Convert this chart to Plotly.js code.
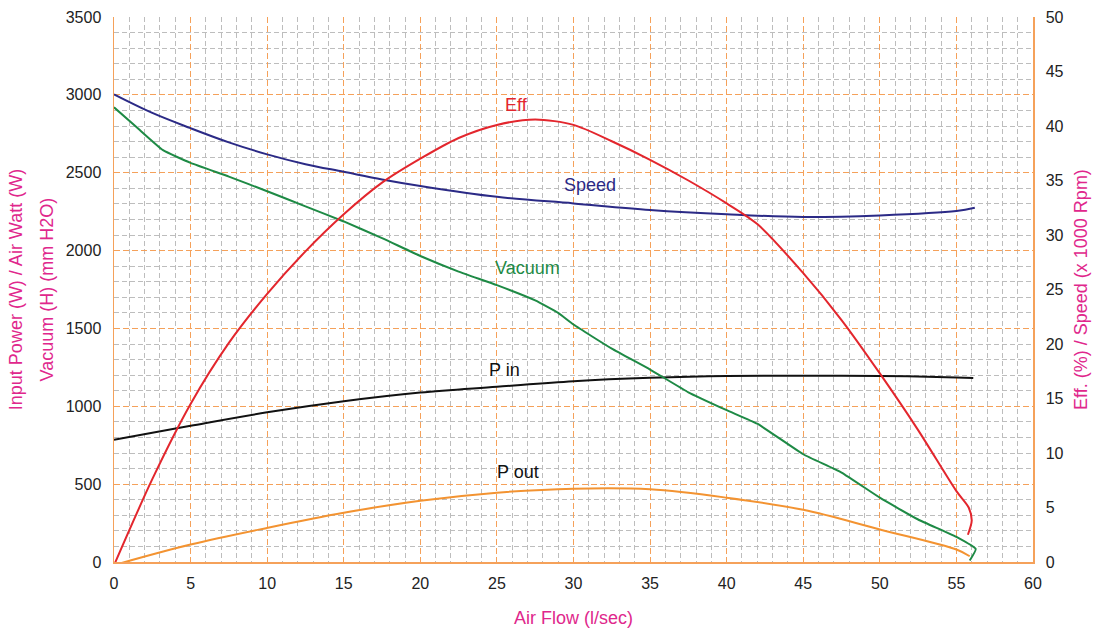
<!DOCTYPE html>
<html>
<head>
<meta charset="utf-8">
<script src="https://cdn.plot.ly/plotly-3.0.1.min.js"></script>
<style>html,body{margin:0;padding:0;background:#fff}#chart{width:1095px;height:633px}</style>
</head>
<body>
<div id="chart"></div>
<script>
// Air flow (l/sec) sample points for each curve
const effX   = [0, 2.5, 5, 7.5, 10, 12.5, 15, 17.5, 20, 22.5, 25, 27.5, 30, 32.5, 35, 37.5, 40, 42, 45, 47.5, 50, 52.5, 55, 55.8, 56.0, 55.75];
const effY   = [-0.3, 7.6, 14.5, 20.1, 24.6, 28.5, 31.9, 34.8, 37.0, 38.9, 40.1, 40.6, 40.1, 38.6, 36.9, 35.0, 32.9, 31.0, 26.5, 22.2, 17.3, 12.1, 6.5, 5.0, 3.8, 2.5];

const speedX = [0, 2.5, 5, 7.5, 10, 12.5, 15, 17.5, 20, 25, 30, 35, 40, 45, 50, 55, 56.2];
const speedY = [42.9, 41.2, 39.8, 38.5, 37.4, 36.5, 35.8, 35.1, 34.5, 33.5, 32.9, 32.3, 31.9, 31.65, 31.8, 32.2, 32.5];

const vacX   = [0, 1.5, 3.2, 5, 7.5, 10, 12.5, 15, 17.5, 20, 22.5, 25, 27.5, 29, 30, 32.5, 35, 37.5, 40, 42, 45, 47.5, 50, 52.5, 55, 56.26, 55.87];
const vacY   = [2920, 2790, 2645, 2563, 2475, 2381, 2284, 2187, 2080, 1965, 1865, 1778, 1680, 1600, 1525, 1370, 1236, 1090, 975, 888, 692, 574, 413, 273, 161, 83, 10];

const pinX   = [0, 5, 10, 15, 20, 25, 30, 35, 40, 45, 50, 55, 56.1];
const pinY   = [785, 875, 961, 1032, 1088, 1125, 1161, 1183, 1195, 1196, 1195, 1185, 1182];

const poutX  = [0, 5, 10, 15, 20, 25, 30, 35, 40, 45, 50, 55, 55.87];
const poutY  = [-20, 112, 219, 316, 393, 445, 471, 467, 413, 335, 209, 80, 37];

// Curve labels
const labelText = ['Eff', 'Speed', 'Vacuum', 'P in', 'P out'];
const labelX    = [26.3, 31.1, 27.0, 25.5, 26.4];
const labelY    = [2937, 2423, 1890, 1235, 580];
const labelCol  = ['#e3262d', '#2b2a86', '#1e8a45', '#111111', '#111111'];

const C_EFF = '#e3262d', C_SPD = '#2b2a86', C_VAC = '#1e8a45', C_PIN = '#111111', C_POUT = '#f39331';
const ORANGE = '#f5a15a', MAGENTA = '#e0278c';
const FAM = 'Liberation Sans, Arial, Helvetica, sans-serif';

const traces = [
  {x: poutX, y: poutY, name: 'P out', mode: 'lines', line: {color: C_POUT, width: 2, shape: 'spline', smoothing: 1}},
  {x: pinX, y: pinY, name: 'P in', mode: 'lines', line: {color: C_PIN, width: 2, shape: 'spline', smoothing: 1}},
  {x: vacX, y: vacY, name: 'Vacuum', mode: 'lines', line: {color: C_VAC, width: 2, shape: 'spline', smoothing: 0.4}},
  {x: speedX, y: speedY, name: 'Speed', yaxis: 'y2', mode: 'lines', line: {color: C_SPD, width: 2, shape: 'spline', smoothing: 1}},
  {x: effX, y: effY, name: 'Eff', yaxis: 'y2', mode: 'lines', line: {color: C_EFF, width: 2, shape: 'spline', smoothing: 0.8}}
];

const annotations = labelText.map((t, i) => ({
  x: labelX[i], y: labelY[i], xref: 'x', yref: 'y', text: t, showarrow: false,
  font: {family: FAM, size: 18, color: labelCol[i]}
}));
// second line of the left axis title
annotations.push({
  xref: 'paper', yref: 'paper', x: -0.073, y: 0.5, xanchor: 'center', yanchor: 'middle',
  text: 'Vacuum (H) (mm H2O)', textangle: -90, showarrow: false,
  font: {family: FAM, size: 18, color: MAGENTA}
});

const layout = {
  width: 1095, height: 633,
  margin: {l: 114, r: 62, t: 17, b: 71},
  paper_bgcolor: '#fff', plot_bgcolor: '#fff',
  showlegend: false,
  font: {family: FAM, size: 16, color: '#222'},
  xaxis: {
    range: [0, 60], dtick: 5, tick0: 0,
    showline: true, linecolor: ORANGE, linewidth: 1.5,
    showgrid: true, gridcolor: ORANGE, griddash: '6px,3px', gridwidth: 1,
    minor: {dtick: 1, showgrid: true, gridcolor: '#bdbdbd', griddash: '5px,3px', gridwidth: 1},
    zeroline: false, ticks: '', ticklabelstandoff: 6,
    tickfont: {family: FAM, size: 16, color: '#222'},
    title: {text: 'Air Flow (l/sec)', font: {family: FAM, size: 18, color: MAGENTA}, standoff: 20}
  },
  yaxis: {
    range: [0, 3500], dtick: 500, tick0: 0,
    showline: true, linecolor: ORANGE, linewidth: 1.5,
    showgrid: true, gridcolor: ORANGE, griddash: '6px,3px', gridwidth: 1,
    minor: {dtick: 100, showgrid: true, gridcolor: '#bdbdbd', griddash: '5px,3px', gridwidth: 1},
    zeroline: false, ticks: '', ticklabelstandoff: 8,
    tickfont: {family: FAM, size: 16, color: '#222'},
    title: {text: 'Input Power (W) / Air Watt (W)', font: {family: FAM, size: 18, color: MAGENTA}, standoff: 38}
  },
  yaxis2: {
    range: [0, 50], dtick: 5, tick0: 0, overlaying: 'y', side: 'right',
    showline: true, linecolor: ORANGE, linewidth: 1.5,
    showgrid: false, zeroline: false, ticks: '', ticklabelstandoff: 8,
    tickfont: {family: FAM, size: 16, color: '#222'},
    title: {text: 'Eff. (%) / Speed (x 1000 Rpm)', font: {family: FAM, size: 18, color: MAGENTA}, standoff: 12}
  },
  annotations: annotations
};

Plotly.newPlot('chart', traces, layout, {displayModeBar: false, staticPlot: true});
</script>
</body>
</html>
